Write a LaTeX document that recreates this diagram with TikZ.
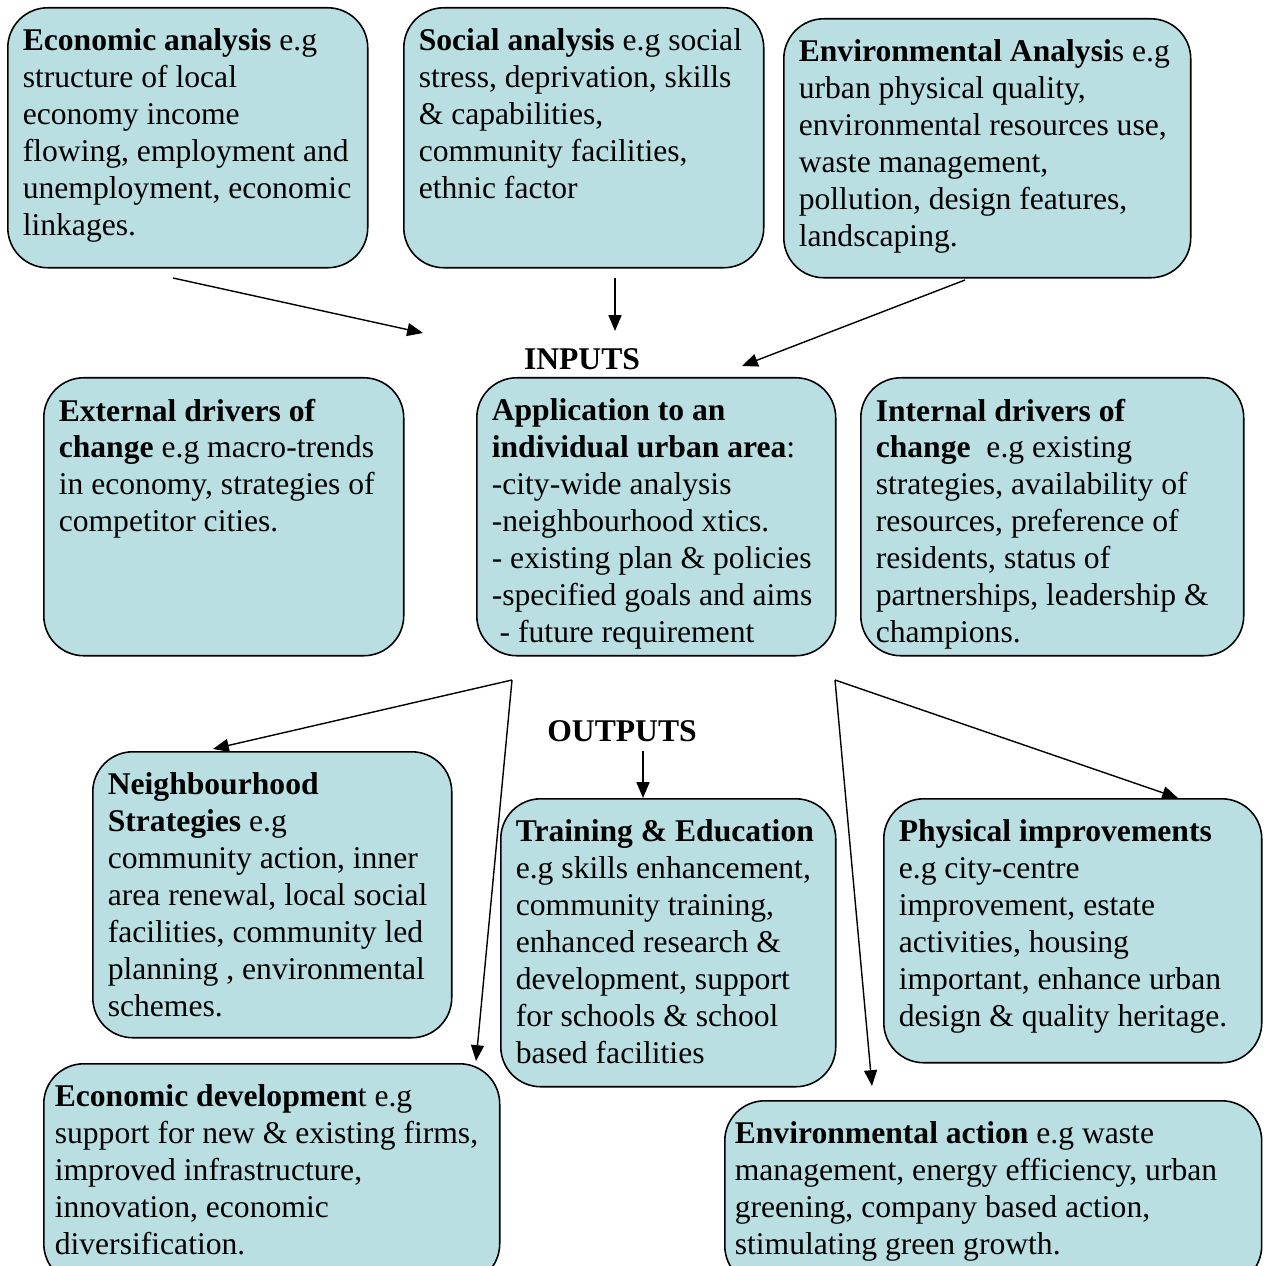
\documentclass[tikz,border=0pt]{standalone}
\usepackage{fontspec}
\setmainfont{Liberation Serif}
\usepackage{xcolor}
\usepackage{tikz}
\usetikzlibrary{arrows.meta,positioning}
\definecolor{panelblue}{RGB}{186,223,227}
\def\hd#1{\textbf{#1}}
\newcommand{\blurb}[4][0.3cm]{\parbox[c][#3][t]{#2}{\raggedright\leftskip=#1\vspace*{0.42cm}#4}}

\begin{document}
\begin{tikzpicture}[x=0.02cm,y=-0.02cm]
    \tikzstyle{panel}=[draw,fill=panelblue,line width=0.9pt,rounded corners=0.8cm,
      inner sep=0pt,anchor=north west,font=\fontsize{18}{21}\selectfont]
    \tikzstyle{tag}=[font=\fontsize{18}{21}\selectfont\bfseries,inner sep=1pt,anchor=base]
    \tikzstyle{feed}=[line width=0.8pt,-{Triangle[length=9pt,width=7.4pt]}]
    \useasboundingbox (0,0) rectangle (1263,1266);
    \clip (0,0) rectangle (1263,1266);
    \node[panel] (ecoA) at (7,7) {\blurb{7.2cm}{5.2cm}{%
      \hd{Economic analysis} e.g\\ structure of local\\ economy income\\
      flowing, employment and\\ unemployment, economic\\ linkages.}};
    \node[panel] (socA) at (403,7) {\blurb{7.2cm}{5.2cm}{%
      \hd{Social analysis} e.g social\\ stress, deprivation, skills\\
      \& capabilities,\\ community facilities,\\ ethnic factor}};
    \node[panel] (envA) at (783,18) {\blurb{8.14cm}{5.18cm}{%
      \hd{Environmental Analysi}s e.g\\ urban physical quality,\\
      environmental resources use,\\ waste management,\\
      pollution, design features,\\ landscaping.}};
    \node[tag] (inputs) at (582,370) {INPUTS};
    \node[panel] (extD) at (43,377) {\blurb{7.2cm}{5.56cm}{%
      \hd{External drivers of}\\ \hd{change} e.g macro-trends\\
      in economy, strategies of\\ competitor cities.}};
    \node[panel] (app) at (476,377) {\blurb{7.18cm}{5.56cm}{%
      \hd{Application to an}\\ \hd{individual urban area}:\\
      -city-wide analysis\\ -neighbourhood xtics.\\
      - existing plan \& policies\\ -specified goals and aims\\
      \ - future requirement}};
    \node[panel] (intD) at (860,377) {\blurb{7.66cm}{5.56cm}{%
      \hd{Internal drivers of}\\ \hd{change}\ \ e.g existing\\
      strategies, availability of\\ resources, preference of\\
      residents, status of\\ partnerships, leadership \&\\ champions.}};
    \node[tag] (outputs) at (622,741) {OUTPUTS};
    \node[panel] (nbh) at (92,751) {\blurb{7.18cm}{5.72cm}{%
      \hd{Neighbourhood}\\ \hd{Strategies} e.g\\ community action, inner\\
      area renewal, local social\\ facilities, community led\\
      planning , environmental\\ schemes.}};
    \node[panel] (trn) at (500,798) {\blurb{6.7cm}{5.76cm}{%
      \hd{Training \& Education}\\ e.g skills enhancement,\\
      community training,\\ enhanced research \&\\
      development, support\\ for schools \& school\\ based facilities}};
    \node[panel] (phy) at (883,798) {\blurb{7.56cm}{5.28cm}{%
      \hd{Physical improvements}\\ e.g city-centre\\
      improvement, estate\\ activities, housing\\
      important, enhance urban\\ design \& quality heritage.}};
    \node[panel] (ecoD) at (43,1063) {\blurb[0.22cm]{9.12cm}{4.4cm}{%
      \hd{Economic developmen}t e.g\\ support for new \& existing firms,\\
      improved infrastructure,\\ innovation, economic\\ diversification.}};
    \node[panel] (envX) at (724,1100) {\blurb[0.2cm]{10.74cm}{3.7cm}{%
      \hd{Environmental action} e.g waste\\
      management, energy efficiency, urban\\
      greening, company based action,\\ stimulating green growth.}};
    \coordinate (ecoTail) at (173,278);
    \coordinate (ecoHead) at (423,333);
    \coordinate (socTail) at (615,278);
    \coordinate (socHead) at (615,331);
    \coordinate (envTail) at (965,280);
    \coordinate (envHead) at (742,366);
    \coordinate (outL) at (512,680);
    \coordinate (outR) at (835,680);
    \coordinate (nbhHead) at (213,749);
    \coordinate (ecoDHead) at (476,1061);
    \coordinate (phyHead) at (1178,798);
    \coordinate (envXHead) at (872,1086);
    \coordinate (trnTail) at (643,751);
    \draw[feed] (ecoTail) -- (ecoHead);
    \draw[feed] (socTail) -- (socHead);
    \draw[feed] (envTail) -- (envHead);
    \draw[feed] (outL) -- (nbhHead);
    \draw[feed] (outL) -- (ecoDHead);
    \draw[feed] (outR) -- (phyHead);
    \draw[feed] (outR) -- (envXHead);
    \draw[feed] (trnTail) -- (trn.north -| trnTail);
  \end{tikzpicture}
\end{document}
